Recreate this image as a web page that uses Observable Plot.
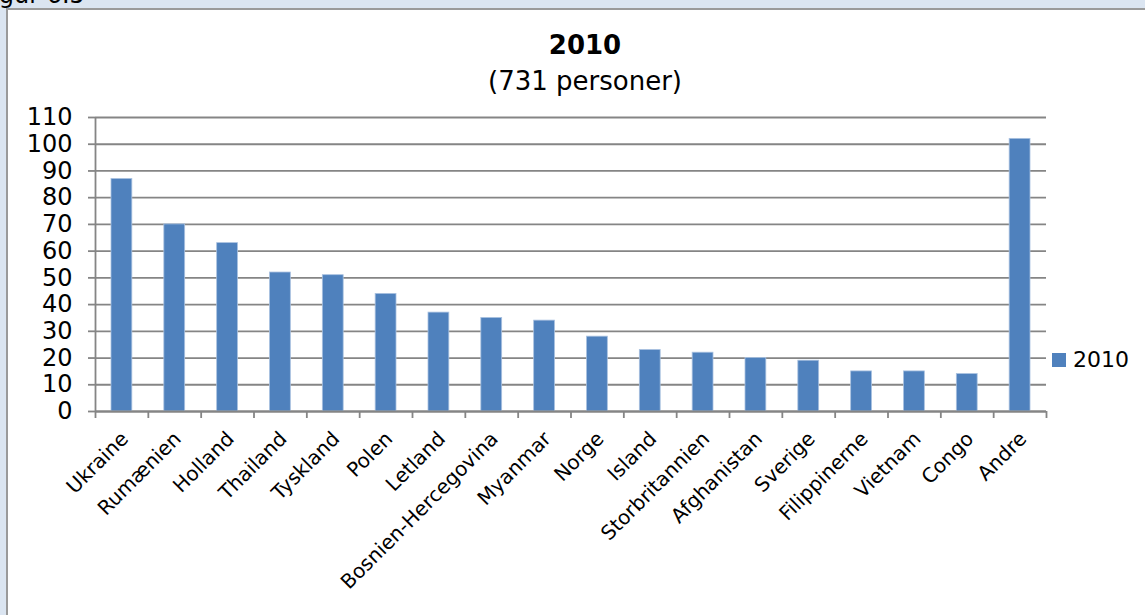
<!DOCTYPE html>
<html>
<head>
<meta charset="utf-8">
<script src="https://cdn.jsdelivr.net/npm/d3@7"></script>
<script src="https://cdn.jsdelivr.net/npm/@observablehq/plot@0.6"></script>
<style>
  html, body { margin: 0; padding: 0; }
  body { width: 1145px; height: 615px; overflow: hidden; font-family: "DejaVu Sans", Verdana, sans-serif; }
  #page { position: relative; width: 1145px; height: 615px; background: #dbe5f1; overflow: hidden; }
  #fig { position: absolute; left: -20px; top: -17px; font-size: 24px; line-height: 24px; color: #000; white-space: nowrap; }
  #box { position: absolute; left: 6px; top: 8px; width: 1200px; height: 700px; background: #fff;
         border-left: 2px solid #9a9a9a; border-top: 2px solid #9a9a9a; }
  #chart { position: absolute; left: 0; top: 0; }
  .ttl { position: absolute; left: 385px; width: 400px; text-align: center; font-size: 26px; line-height: 26px; color: #000; white-space: nowrap; }
  #title { top: 32px; font-weight: bold; }
  #subtitle { top: 68px; }
  #legend { position: absolute; left: 1052px; top: 349px; display: flex; align-items: center; font-size: 22px; line-height: 22px; color: #000; }
  #legend .sw { width: 14px; height: 14px; background: #4f81bd; margin-right: 7px; }
</style>
</head>
<body>
<div id="page">
  <div id="fig">Figur 6.5</div>
  <div id="box"></div>
  <div id="chart"></div>
  <div id="title" class="ttl"></div>
  <div id="subtitle" class="ttl"></div>
  <div id="legend"><div class="sw"></div><span id="legtext"></span></div>
</div>
<script>
const categories = ["Ukraine", "Rumænien", "Holland", "Thailand", "Tyskland", "Polen", "Letland",
  "Bosnien-Hercegovina", "Myanmar", "Norge", "Island", "Storbritannien", "Afghanistan",
  "Sverige", "Filippinerne", "Vietnam", "Congo", "Andre"];
const values = [87, 70, 63, 52, 51, 44, 37, 35, 34, 28, 23, 22, 20, 19, 15, 15, 14, 102];
const yTicks = [0, 10, 20, 30, 40, 50, 60, 70, 80, 90, 100, 110];
const seriesName = "2010";
const titleText = "2010";
const subtitleText = "(731 personer)";

const data = categories.map((c, i) => ({land: c, antal: values[i]}));

document.getElementById("title").textContent = titleText;
document.getElementById("subtitle").textContent = subtitleText;
document.getElementById("legtext").textContent = seriesName;

const W = 1145, H = 615, mL = 95, mR = 99, mT = 117, mB = 204;
const bw = (W - mL - mR) / categories.length;
const gray = "#858585";

const chart = Plot.plot({
  width: W, height: H,
  marginLeft: mL, marginRight: mR, marginTop: mT, marginBottom: mB,
  style: {background: "transparent", fontFamily: "'DejaVu Sans', Verdana, sans-serif", color: "#000", overflow: "visible"},
  x: {domain: categories, padding: 0, round: false, axis: null},
  y: {domain: [0, 110], axis: null},
  marks: [
    Plot.gridY(yTicks, {stroke: gray, strokeOpacity: 1, strokeWidth: 1.8}),
    Plot.axisY(yTicks, {tickSize: 7, tickPadding: 16, fontSize: 24, stroke: gray, strokeWidth: 1.8, fill: "#000", label: null}),
    Plot.barY(data, {x: "land", y: "antal", fill: "#4f81bd", stroke: "#a9c1e0", strokeWidth: 0.8, insetLeft: 16, insetRight: 16}),
    Plot.ruleX([categories[0]], {dx: -bw / 2, y1: 110, y2: 0, insetBottom: -7, stroke: gray, strokeWidth: 1.8}),
    Plot.ruleX(categories.slice(1), {dx: -bw / 2, y1: 0, y2: 0, insetBottom: -7, stroke: gray, strokeWidth: 1.8}),
    Plot.ruleX([categories[categories.length - 1]], {dx: bw / 2, y1: 0, y2: 0, insetBottom: -7, stroke: gray, strokeWidth: 1.8}),
    Plot.ruleY([0], {stroke: gray, strokeWidth: 1.8}),
    Plot.text(data, {x: "land", text: "land", frameAnchor: "bottom", rotate: -45, textAnchor: "end",
      lineAnchor: "middle", dx: 3, dy: 24, fontSize: 20, fill: "#000"})
  ]
});
document.getElementById("chart").appendChild(chart);
</script>
</body>
</html>
